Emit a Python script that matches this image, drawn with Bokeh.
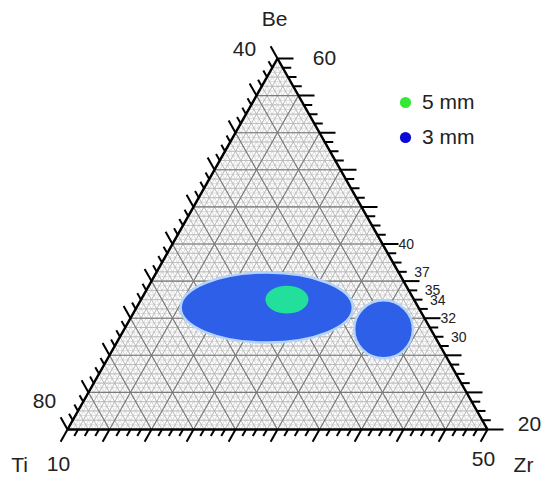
import numpy as np
from bokeh.plotting import figure
from bokeh.models import Label, Legend, LegendItem, Range1d
from bokeh.embed import file_html
from bokeh.resources import INLINE

# ---------------- data ----------------
be_min, be_max = 20, 60          # Be axis (right side)
zr_min = 10                       # Zr axis (bottom)
n_units = 40                      # span of each axis
major_every = 4
minor_every = 1

# composition regions: centre (Be, Zr) and extents
region_label = ["3 mm", "3 mm", "5 mm"]
region_be = [33.15, 30.8, 34.0]
region_zr = [22.4, 34.7, 23.9]
region_zr_span = [16.4, 5.6, 4.1]
region_be_span = [7.55, 6.25, 3.0]

right_tick_values = [40, 37, 35, 34, 32, 30]
legend_labels = ["5 mm", "3 mm"]

# ---------------- geometry helpers ----------------
PX_X = 10.5     # pixels per X unit
PX_Y = 9.275    # pixels per Y unit
X0, Y0 = 67, 429  # pixel position of the Ti corner

def to_xy(r, t):
    """r = fraction of Zr corner, t = fraction of Be apex."""
    return n_units * (r + t / 2.0), be_min + n_units * t

def comp_to_xy(zr, be):
    return to_xy((zr - zr_min) / n_units, (be - be_min) / n_units)

W, H = 542, 481
p = figure(width=W, height=H, output_backend="svg", toolbar_location=None,
           x_range=Range1d(-X0 / PX_X, (W - X0) / PX_X),
           y_range=Range1d(be_min - (H - Y0) / PX_Y, be_min + Y0 / PX_Y),
           min_border=0, x_axis_type=None, y_axis_type=None)
p.outline_line_color = None
p.grid.visible = False
p.background_fill_color = "white"

def grid_lines(step):
    xs, ys = [], []
    for k in np.arange(step, n_units, step):
        f = k / n_units
        a = to_xy(0, f); b = to_xy(1 - f, f)
        xs.append([a[0], b[0]]); ys.append([a[1], b[1]])
        a = to_xy(f, 0); b = to_xy(f, 1 - f)
        xs.append([a[0], b[0]]); ys.append([a[1], b[1]])
        a = to_xy(1 - f, 0); b = to_xy(0, 1 - f)
        xs.append([a[0], b[0]]); ys.append([a[1], b[1]])
    return xs, ys

gx, gy = grid_lines(0.5)
p.multi_line(gx, gy, line_color="#d0d0d0", line_width=0.8)
gx, gy = grid_lines(minor_every)
p.multi_line(gx, gy, line_color="#b8b8b8", line_width=0.8)
gx, gy = grid_lines(major_every)
p.multi_line(gx, gy, line_color="#7a7a7a", line_width=1.1)

# regions
for lab_, be, zr, ws, hs in zip(region_label, region_be, region_zr, region_zr_span, region_be_span):
    cx, cy = comp_to_xy(zr, be)
    if lab_ == "3 mm":
        p.ellipse(x=[cx], y=[cy], width=[ws], height=[hs], fill_color="#2e5fe9",
                  line_color="#b5d2f8", line_width=2.5)
    else:
        p.ellipse(x=[cx], y=[cy], width=[ws], height=[hs], fill_color="#22e09c",
                  line_color=None)

# triangle outline
c = [to_xy(0, 0), to_xy(1, 0), to_xy(0, 1), to_xy(0, 0)]
p.line([q[0] for q in c], [q[1] for q in c], line_color="black", line_width=2.5)

# ticks
def px_dir(dx, dy):
    n = np.hypot(dx, dy)
    return dx / n, dy / n

tx, ty = [], []
d_bottom = px_dir(-210, -371)
d_left = px_dir(-210, 371)
for i in range(0, n_units + 1, minor_every):
    f = i / n_units
    L = 14 if i % major_every == 0 else 7.5
    x0, y0 = to_xy(f, 0)
    tx.append([x0, x0 + L * d_bottom[0] / PX_X]); ty.append([y0, y0 + L * d_bottom[1] / PX_Y])
    x0, y0 = to_xy(0, f)
    tx.append([x0, x0 + L * d_left[0] / PX_X]); ty.append([y0, y0 + L * d_left[1] / PX_Y])
    Lr = 16 if i % major_every == 0 else 8.5
    x0, y0 = to_xy(1 - f, f)
    tx.append([x0, x0 + Lr / PX_X]); ty.append([y0, y0])
p.multi_line(tx, ty, line_color="black", line_width=2)

FONT = "Liberation Sans"

def lab(text, px, py, size="21px", align="center"):
    x = (px - X0) / PX_X
    y = be_min + (Y0 - py) / PX_Y
    p.add_layout(Label(x=x, y=y, text=text, text_font=FONT, text_font_size=size,
                       text_align=align, text_baseline="middle", text_color="#222222"))

lab("Be", 274, 18)
lab("40", 244, 48)
lab("60", 324, 57)
lab("80", 44, 400)
lab("Ti", 19, 464)
lab("10", 58, 463)
lab("50", 483, 458)
lab("Zr", 523, 464)
lab("20", 529, 423)

for v in right_tick_values:
    t = (v - be_min) / n_units
    x0, y0 = to_xy(1 - t, t)
    p.add_layout(Label(x=x0 + 16 / PX_X, y=y0, text=str(v), text_font=FONT,
                       text_font_size="14px", text_align="left", text_baseline="middle",
                       text_color="#222222"))

# legend (marker-only renderers with no visible points)
g1 = p.scatter(x=[np.nan], y=[np.nan], size=10, marker="circle", fill_color="#36e836", line_color=None)
g2 = p.scatter(x=[np.nan], y=[np.nan], size=10, marker="circle", fill_color="#0a0ad8", line_color=None)
legend = Legend(items=[LegendItem(label=legend_labels[0], renderers=[g1]),
                       LegendItem(label=legend_labels[1], renderers=[g2])],
                location=(391, 330), padding=0, margin=0, spacing=7,
                glyph_width=28, glyph_height=28, label_standoff=3,
                label_text_font=FONT, label_text_font_size="21px",
                label_text_color="#222222",
                background_fill_alpha=0, border_line_color=None)
p.add_layout(legend, "center")

open("out.html", "w").write(file_html(p, INLINE))
